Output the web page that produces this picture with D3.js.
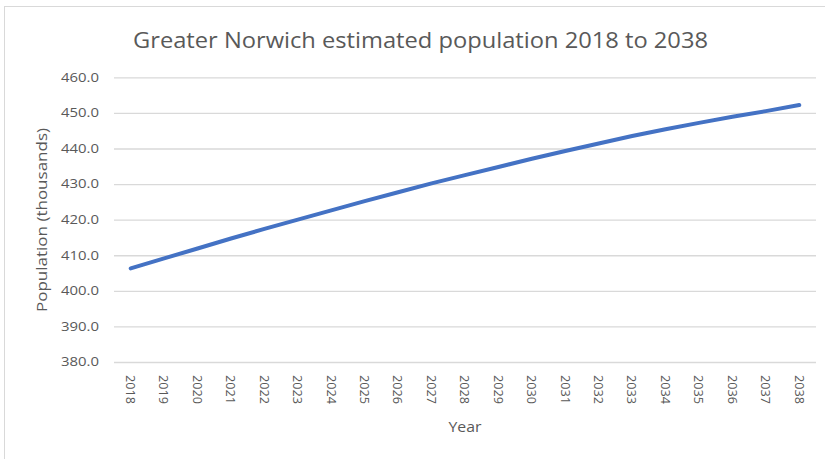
<!DOCTYPE html>
<html>
<head>
<meta charset="utf-8">
<script src="https://cdn.jsdelivr.net/npm/d3@7"></script>
<style>
  html, body { margin: 0; padding: 0; background: #fff; }
  svg { display: block; }
  text { font-family: "Open Sans", "Noto Sans", sans-serif; fill: #595959; }
</style>
</head>
<body>
<svg id="chart" width="825" height="459"></svg>
<script>
const years = ["2018","2019","2020","2021","2022","2023","2024","2025","2026","2027","2028",
               "2029","2030","2031","2032","2033","2034","2035","2036","2037","2038"];
const population = [406.3, 409.1, 411.9, 414.7, 417.4, 420.0, 422.6, 425.2, 427.7, 430.2, 432.5,
                    434.8, 437.1, 439.3, 441.4, 443.5, 445.4, 447.2, 448.9, 450.5, 452.2];
const yTicks = [380, 390, 400, 410, 420, 430, 440, 450, 460];
const titleText = "Greater Norwich estimated population 2018 to 2038";
const xTitle = "Year";
const yTitle = "Population (thousands)";

(function () {
const svg = d3.select("#chart");

// chart frame
svg.append("rect")
  .attr("x", 4.5).attr("y", 6.5)
  .attr("width", 900).attr("height", 500)
  .attr("fill", "#fff").attr("stroke", "#d9d9d9").attr("stroke-width", 1);

const pLeft = 114, pRight = 816, pTop = 77.3, pBottom = 362;

const x = d3.scaleBand().domain(years).range([pLeft, pRight]);
const y = d3.scaleLinear().domain([380, 460]).range([pBottom, pTop]);

// y axis with gridlines
const yAxis = svg.append("g")
  .attr("transform", `translate(${pLeft},0)`)
  .call(d3.axisLeft(y).tickValues(yTicks).tickSize(-(pRight - pLeft)).tickPadding(15)
        .tickFormat(d3.format(".1f")));
yAxis.select(".domain").remove();
yAxis.selectAll(".tick line").attr("stroke", "#d9d9d9").attr("stroke-width", 1.3);
yAxis.selectAll(".tick text")
  .attr("font-size", 12)
  .attr("textLength", 38).attr("lengthAdjust", "spacingAndGlyphs")
  .style("fill", "#595959");

// x axis
const xAxis = svg.append("g")
  .attr("transform", `translate(0,${pBottom})`)
  .call(d3.axisBottom(x).tickSize(0));
xAxis.select(".domain").remove();
xAxis.selectAll(".tick text")
  .attr("font-size", 13.5)
  .attr("x", 13).attr("y", 0).attr("dy", "0.35em")
  .attr("transform", "rotate(90)")
  .attr("textLength", 29).attr("lengthAdjust", "spacingAndGlyphs")
  .style("text-anchor", "start")
  .style("fill", "#595959");

// line
const line = d3.line()
  .x((d, i) => x(years[i]) + x.bandwidth() / 2)
  .y(d => y(d));
svg.append("path")
  .datum(population)
  .attr("d", line)
  .attr("fill", "none")
  .attr("stroke", "#4472C4")
  .attr("stroke-width", 4)
  .attr("stroke-linecap", "round")
  .attr("stroke-linejoin", "round");

// title
svg.append("text")
  .attr("x", 420.5).attr("y", 48)
  .attr("text-anchor", "middle")
  .attr("font-size", 21)
  .attr("textLength", 575).attr("lengthAdjust", "spacingAndGlyphs")
  .text(titleText);

// axis titles
svg.append("text")
  .attr("x", 465).attr("y", 432)
  .attr("text-anchor", "middle")
  .attr("font-size", 14)
  .attr("textLength", 33).attr("lengthAdjust", "spacingAndGlyphs")
  .text(xTitle);

svg.append("text")
  .attr("transform", "translate(47,220) rotate(-90)")
  .attr("text-anchor", "middle")
  .attr("font-size", 14)
  .attr("textLength", 184).attr("lengthAdjust", "spacingAndGlyphs")
  .text(yTitle);
})();
</script>
</body>
</html>
